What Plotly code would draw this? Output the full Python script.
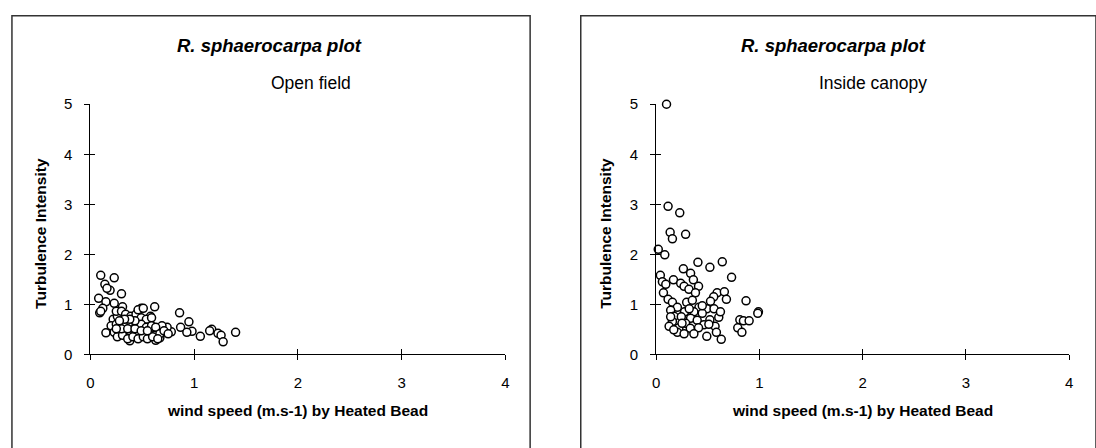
import plotly.graph_objects as go

# ---------------- data ----------------
open_x = [0.10, 0.23, 0.14, 0.19, 0.16, 0.30, 0.08, 0.15, 0.23, 0.31, 0.12, 0.09, 0.10,
          0.62, 0.49, 0.86, 0.95, 0.87, 0.98, 0.93, 1.06, 1.17, 1.15, 1.23, 1.26, 1.28,
          1.40, 0.78, 0.74, 0.69, 0.70, 0.67, 0.63, 0.58, 0.38, 0.15,
          0.22, 0.26, 0.25, 0.30, 0.34, 0.39, 0.44, 0.49, 0.54, 0.59,
          0.20, 0.25, 0.30, 0.34, 0.39, 0.44, 0.49, 0.54, 0.59, 0.63,
          0.23, 0.28, 0.33, 0.38, 0.43, 0.47, 0.52, 0.57, 0.62, 0.67,
          0.26, 0.31, 0.36, 0.41, 0.46, 0.51, 0.55, 0.60, 0.65,
          0.30, 0.36, 0.43, 0.49, 0.55, 0.46, 0.51, 0.43, 0.38, 0.33, 0.28, 0.71, 0.75, 0.25]
open_y = [1.58, 1.53, 1.40, 1.28, 1.32, 1.21, 1.12, 1.05, 1.02, 0.95, 0.92, 0.83, 0.86,
          0.95, 0.92, 0.83, 0.65, 0.54, 0.46, 0.44, 0.36, 0.50, 0.47, 0.42, 0.38, 0.25,
          0.44, 0.45, 0.54, 0.57, 0.44, 0.33, 0.28, 0.76, 0.27, 0.43,
          0.70, 0.76, 0.86, 0.86, 0.80, 0.76, 0.80, 0.73, 0.70, 0.73,
          0.57, 0.60, 0.64, 0.57, 0.64, 0.57, 0.60, 0.54, 0.57, 0.54,
          0.44, 0.47, 0.41, 0.47, 0.44, 0.38, 0.44, 0.41, 0.38, 0.41,
          0.35, 0.38, 0.31, 0.35, 0.31, 0.35, 0.31, 0.35, 0.31,
          0.51, 0.51, 0.51, 0.47, 0.47, 0.89, 0.92, 0.67, 0.70, 0.70, 0.67, 0.47, 0.41, 0.51]

canopy_x = [0.10, 0.115, 0.228, 0.135, 0.157, 0.285, 0.02, 0.083, 0.404, 0.52, 0.64, 0.73,
            0.04, 0.263, 0.333, 0.167, 0.06, 0.093, 0.237, 0.36, 0.27, 0.41, 0.317, 0.38,
            0.07, 0.59, 0.66, 0.557, 0.68, 0.115, 0.157, 0.295, 0.35, 0.526, 0.87, 0.205,
            0.414, 0.49, 0.56, 0.14, 0.275, 0.365, 0.446, 0.99, 0.984, 0.606, 0.173, 0.243,
            0.333, 0.397, 0.52, 0.157, 0.285, 0.462, 0.57, 0.81, 0.845, 0.90, 0.125, 0.22,
            0.33, 0.41, 0.51, 0.79, 0.83, 0.205, 0.27, 0.365, 0.49, 0.583, 0.63, 0.17,
            0.25, 0.32, 0.446, 0.622, 0.14]
canopy_y = [5.00, 2.96, 2.83, 2.44, 2.31, 2.40, 2.10, 1.99, 1.84, 1.74, 1.85, 1.54,
            1.58, 1.71, 1.62, 1.49, 1.45, 1.40, 1.42, 1.49, 1.36, 1.36, 1.30, 1.23,
            1.23, 1.23, 1.25, 1.15, 1.10, 1.10, 1.04, 1.04, 1.08, 1.06, 1.07, 0.94,
            0.94, 0.91, 0.91, 0.88, 0.85, 0.85, 0.82, 0.85, 0.82, 0.74, 0.76, 0.75,
            0.72, 0.68, 0.69, 0.655, 0.62, 0.59, 0.56, 0.69, 0.67, 0.67, 0.56, 0.53,
            0.52, 0.53, 0.60, 0.53, 0.44, 0.44, 0.41, 0.41, 0.36, 0.44, 0.30, 0.49,
            0.62, 0.91, 0.97, 0.85, 0.75]

x_ticks = [0, 1, 2, 3, 4]
y_ticks = [0, 1, 2, 3, 4, 5]
x_range = [0, 4]
y_range = [0, 5]

chart_title = "<i>R. sphaerocarpa plot</i>"
panel_labels = ["Open field", "Inside canopy"]
x_title = "wind speed (m.s-1) by Heated Bead"
y_title = "Turbulence Intensity"

# ---------------- styling ----------------
F = "Liberation Sans, Arial, Helvetica, sans-serif"
W, H = 1096, 448
px = lambda v: v / W
py = lambda v: (H - v) / H

dom_left = [px(87), px(505)]
dom_right = [px(657), px(1073)]
dom_y = [py(359), py(99)]

marker = dict(symbol="circle", size=8, color="white",
              line=dict(color="black", width=1.5))

fig = go.Figure()
fig.add_trace(go.Scatter(x=open_x, y=open_y, mode="markers", xaxis="x", yaxis="y",
                         marker=marker, cliponaxis=False, showlegend=False))
fig.add_trace(go.Scatter(x=canopy_x, y=canopy_y, mode="markers", xaxis="x2", yaxis="y2",
                         marker=marker, cliponaxis=False, showlegend=False))
# invisible traces to activate the overlay axes (inside half of the crossing ticks)
for xa_, ya_ in [("x3", "y3"), ("x4", "y4")]:
    fig.add_trace(go.Scatter(x=x_range, y=y_range, mode="lines", xaxis=xa_, yaxis=ya_,
                             line=dict(width=0, color="rgba(0,0,0,0)"),
                             hoverinfo="skip", showlegend=False))

tickfont = dict(family=F, size=15, color="black")
common = dict(showgrid=False, zeroline=False, showline=True, linecolor="black",
              linewidth=1, tickcolor="black", ticklen=5, tickwidth=1, tickfont=tickfont)

xa = dict(range=x_range, tickvals=x_ticks, ticks="outside", ticklabelstandoff=10, **common)
ya = dict(range=y_range, tickvals=y_ticks, ticks="outside", ticklabelstandoff=9, **common)
xin = dict(range=x_range, tickvals=x_ticks, ticks="inside", showticklabels=False, **common)
yin = dict(range=y_range, tickvals=y_ticks, ticks="inside", showticklabels=False, **common)

fig.update_layout(
    width=W, height=H,
    margin=dict(l=0, r=0, t=0, b=0),
    paper_bgcolor="white", plot_bgcolor="rgba(0,0,0,0)",
    font=dict(family=F, color="black"),
    xaxis=dict(domain=dom_left, anchor="y", **xa),
    yaxis=dict(domain=dom_y, anchor="x", **ya),
    xaxis2=dict(domain=dom_right, anchor="y2", **xa),
    yaxis2=dict(domain=dom_y, anchor="x2", **ya),
    xaxis3=dict(domain=dom_left, anchor="y3", overlaying="x", **xin),
    yaxis3=dict(domain=dom_y, anchor="x3", overlaying="y", **yin),
    xaxis4=dict(domain=dom_right, anchor="y4", overlaying="x2", **xin),
    yaxis4=dict(domain=dom_y, anchor="x4", overlaying="y2", **yin),
)

# panel frames
for x0, x1 in [(8, 530), (581, 1100)]:
    fig.add_shape(type="rect", xref="paper", yref="paper",
                  x0=px(x0), x1=px(x1), y0=-0.05, y1=py(7),
                  line=dict(color="#333333", width=1.5), fillcolor="rgba(0,0,0,0)")

ann = []
for (tcx, lcx, xtcx, ytcx, label) in [(267, 309, 296, 36, panel_labels[0]),
                                       (836, 875, 865, 606, panel_labels[1])]:
    ann.append(dict(text="<b>" + chart_title + "</b>", x=px(tcx), y=py(38),
                    font=dict(family=F, size=18.5, color="black")))
    ann.append(dict(text=label, x=px(lcx), y=py(77),
                    font=dict(family=F, size=17.5, color="black")))
    ann.append(dict(text="<b>" + x_title + "</b>", x=px(xtcx), y=py(417),
                    font=dict(family=F, size=15.5, color="black")))
    ann.append(dict(text="<b>" + y_title + "</b>", x=px(ytcx), y=py(233), textangle=-90,
                    font=dict(family=F, size=15.5, color="black")))
for a in ann:
    a.update(xref="paper", yref="paper", showarrow=False, xanchor="center", yanchor="middle")
fig.update_layout(annotations=ann)

fig.write_html("out.html")
